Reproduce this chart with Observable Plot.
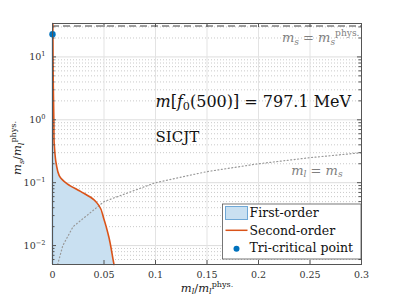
<!DOCTYPE html>
<html><head><meta charset="utf-8">
<script src="https://cdn.jsdelivr.net/npm/d3@7"></script>
<script src="https://cdn.jsdelivr.net/npm/@observablehq/plot@0.6"></script>
<style>
body{margin:0;background:#fff} svg{display:block}
svg, svg text, svg tspan {font-family: "DejaVu Serif", "Liberation Serif", serif !important;}
</style>
</head><body><div id="chart"></div>
<script>
// Second-order boundary (m_s/m_l^phys vs m_l/m_l^phys)
const boundaryY = [34, 22.9, 10, 4.2, 1.0, 0.47, 0.37, 0.2, 0.13, 0.096, 0.0727, 0.0537, 0.0436, 0.0268, 0.0137, 0.0052, 0.005];
const boundaryX = [0.0003, 0.0004, 0.0005, 0.0007, 0.0013, 0.0015, 0.0019, 0.0036, 0.0065, 0.0143, 0.0272, 0.0401, 0.045, 0.0498, 0.0547, 0.0595, 0.0597];
// tri-critical point
const tcpX = [0];
const tcpY = [22.9];
// physical strange mass line and m_l = m_s line
const msPhys = [31];
const diagX = [0.005, 0.01, 0.02, 0.05, 0.1, 0.15, 0.2, 0.25, 0.3];
// ticks
const xTicks = [0, 0.05, 0.1, 0.15, 0.2, 0.25, 0.3];
const xTickLabels = ["0", "0.05", "0.1", "0.15", "0.2", "0.25", "0.3"];
const yMajor = [0.01, 0.1, 1, 10];
const yMinor = [];
for (const d of [0.001, 0.01, 0.1, 1, 10]) for (let k = 2; k <= 9; k++) { const v = +(d * k).toPrecision(3); if (v >= 0.005 && v <= 34) yMinor.push(v); }

const boundary = boundaryY.map((y, i) => ({x: boundaryX[i], y}));
const region = boundary.filter(d => d.y <= tcpY[0]);
const diag = diagX.map(x => ({x, y: x}));

const blue = "#0072BD", orange = "#D95319", fillBlue = "#c9e0f1";
const W = 399, H = 299, mL = 52, mR = 38, mT = 23, mB = 35;
const fw = W - mL - mR, fh = H - mT - mB;

const chart = Plot.plot({
  width: W, height: H,
  marginLeft: mL, marginRight: mR, marginTop: mT, marginBottom: mB,
  style: {background: "#fff", color: "#333"},
  x: {domain: [0, 0.3]},
  y: {type: "log", domain: [0.005, 34]},
  marks: [
    Plot.gridY(yMinor, {stroke: "#bbb", strokeOpacity: 0.8, strokeDasharray: "1,2"}),
    Plot.gridY(yMajor, {stroke: "#ddd", strokeOpacity: 1}),
    Plot.gridX(xTicks, {stroke: "#e3e3e3", strokeOpacity: 1}),
    Plot.areaX(region, {y: "y", x1: 0, x2: "x", fill: fillBlue, fillOpacity: 1}),
    Plot.ruleX([0], {y1: 0.005, y2: tcpY[0], stroke: "#7fb1d9", strokeWidth: 1.5}),
    Plot.line(diag, {x: "x", y: "y", stroke: "#999", strokeWidth: 1.2, strokeDasharray: "1,2.5"}),
    Plot.ruleY(msPhys, {stroke: "#808080", strokeWidth: 1.5, strokeDasharray: "7,4"}),
    Plot.line(boundary, {x: "x", y: "y", stroke: orange, strokeWidth: 1.6, curve: "monotone-y"}),
    Plot.dot(tcpX.map((x, i) => ({x, y: tcpY[i]})), {x: "x", y: "y", r: 3.2, fill: blue}),
    // axes: labels
    Plot.axisX(xTicks, {anchor: "bottom", tickSize: 0, tickPadding: 7, label: null, tickFormat: (d, i) => xTickLabels[i], fontSize: 9.5, fill: "#333"}),
    Plot.axisY(yMajor, {anchor: "left", tickSize: 0, tickPadding: 7, label: null, tickFormat: d => `10^${Math.round(Math.log10(d))}`, fontSize: 9.5, fill: "#333"}),
    // inward ticks (MATLAB style, on all four sides)
    Plot.tickX(xTicks, {x: d => d, insetTop: fh - 4, stroke: "#555"}),
    Plot.tickX(xTicks, {x: d => d, insetBottom: fh - 4, stroke: "#555"}),
    Plot.tickY(yMajor, {y: d => d, insetRight: fw - 4, stroke: "#555"}),
    Plot.tickY(yMajor, {y: d => d, insetLeft: fw - 4, stroke: "#555"}),
    Plot.tickY(yMinor, {y: d => d, insetRight: fw - 2.5, stroke: "#555"}),
    Plot.tickY(yMinor, {y: d => d, insetLeft: fw - 2.5, stroke: "#555"}),
    Plot.frame({stroke: "#555", strokeWidth: 1}),
    // annotations
    Plot.text(["@ANN_MASS"], {x: 0.1, y: 1.95, textAnchor: "start", fontSize: 16, fill: "#111"}),
    Plot.text(["SICJT"], {x: 0.1, y: 0.52, textAnchor: "start", fontSize: 15, fill: "#111"}),
    Plot.text(["@ANN_MSPHYS"], {x: 0.298, y: 20.2, textAnchor: "end", fontSize: 13, fill: "#808080"}),
    Plot.text(["@ANN_MLMS"], {x: 0.2816, y: 0.157, textAnchor: "end", fontSize: 13, fill: "#808080"}),
    Plot.text(["@XLABEL"], {frameAnchor: "bottom", textAnchor: "middle", dy: 27, fontSize: 11.5, fill: "#222"}),
    Plot.text(["@YLABEL"], {frameAnchor: "left", textAnchor: "middle", lineAnchor: "middle", dx: -35, dy: 4, rotate: -90, fontSize: 11.5, fill: "#222"})
  ]
});
document.getElementById("chart").append(chart);

const svg = d3.select(chart);
function rich(el, parts, size) {
  const t = d3.select(el); t.text(null);
  let shift = 0;
  for (const p of parts) {
    const ts = t.append("tspan").text(p.t);
    const target = p.sup ? -0.42 * size : p.sub ? 0.22 * size : 0;
    if (target - shift !== 0) ts.attr("dy", target - shift);
    shift = target;
    if (p.sup || p.sub) ts.attr("font-size", size * 0.7);
    if (p.i) ts.attr("font-style", "italic");
  }
}
const defs = {
  "@ANN_MASS": [[{t: "m", i: 1}, {t: "["}, {t: "f", i: 1}, {t: "0", sub: 1}, {t: "(500)] = 797.1 MeV"}], 16],
  "@ANN_MSPHYS": [[{t: "m", i: 1}, {t: "s", i: 1, sub: 1}, {t: " = "}, {t: "m", i: 1}, {t: "s", i: 1, sub: 1}, {t: "phys.", sup: 1}], 13],
  "@ANN_MLMS": [[{t: "m", i: 1}, {t: "l", i: 1, sub: 1}, {t: " = "}, {t: "m", i: 1}, {t: "s", i: 1, sub: 1}], 13],
  "@XLABEL": [[{t: "m", i: 1}, {t: "l", i: 1, sub: 1}, {t: "/"}, {t: "m", i: 1}, {t: "l", i: 1, sub: 1}, {t: "phys.", sup: 1}], 11.5],
  "@YLABEL": [[{t: "m", i: 1}, {t: "s", i: 1, sub: 1}, {t: "/"}, {t: "m", i: 1}, {t: "l", i: 1, sub: 1}, {t: "phys.", sup: 1}], 11.5]
};
svg.selectAll("text").each(function() {
  const s = this.textContent;
  if (defs[s]) rich(this, defs[s][0], defs[s][1]);
  const m = /^10\^(-?\d+)$/.exec(s);
  if (m) rich(this, [{t: "10"}, {t: m[1].replace("-", "\u2212"), sup: 1}], 9.5);
});

// legend
const lg = svg.append("g").attr("font-size", 12.5).attr("fill", "#111").attr("text-anchor", "start");
lg.append("rect").attr("x", 222.5).attr("y", 204).attr("width", 138.5).attr("height", 55).attr("fill", "#fff").attr("stroke", "#555").attr("stroke-width", 0.8);
lg.append("rect").attr("x", 225.5).attr("y", 206.5).attr("width", 22).attr("height", 13).attr("fill", fillBlue).attr("stroke", "#6fa8d6").attr("stroke-width", 1);
lg.append("text").attr("x", 249.5).attr("y", 217).text("First-order");
lg.append("line").attr("x1", 225.5).attr("x2", 247.5).attr("y1", 230.3).attr("y2", 230.3).attr("stroke", orange).attr("stroke-width", 1.5);
lg.append("text").attr("x", 249.5).attr("y", 234.5).text("Second-order");
lg.append("circle").attr("cx", 236.5).attr("cy", 248.7).attr("r", 3).attr("fill", blue);
lg.append("text").attr("x", 249.5).attr("y", 252.3).text("Tri-critical point");
</script></body></html>
